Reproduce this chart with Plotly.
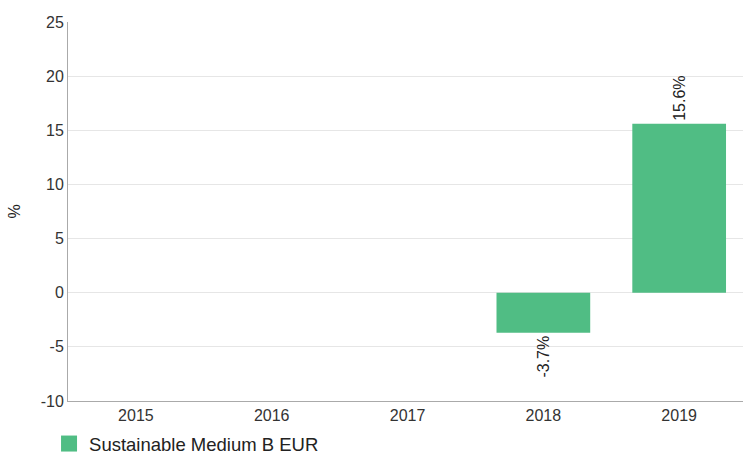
import plotly.graph_objects as go

years = ["2015", "2016", "2017", "2018", "2019"]
values = [None, None, None, -3.7, 15.6]
labels = ["", "", "", "-3.7%", "15.6%"]
series_name = "Sustainable Medium B EUR"
y_title = "%"
y_ticks = [-10, -5, 0, 5, 10, 15, 20, 25]
y_tick_text = ["-10", "-5", "0", "5", "10", "15", "20", "25"]

GREEN = "#50BD84"
FONT = "Liberation Sans, Arial, sans-serif"

fig = go.Figure()
fig.add_trace(go.Bar(
    x=years, y=values, text=labels, name=series_name,
    marker=dict(color=GREEN, line=dict(width=0)),
    textposition="outside", textangle=-90,
    textfont=dict(size=16, color="#222222", family=FONT),
    cliponaxis=False, width=0.69, showlegend=False,
))
# legend entry (square swatch)
fig.add_trace(go.Scatter(
    x=[None], y=[None], mode="markers", name=series_name,
    marker=dict(symbol="square", size=18, color=GREEN), showlegend=True,
))
fig.add_annotation(
    text=y_title, xref="paper", yref="paper", x=-0.08, y=0.5,
    xanchor="center", yanchor="middle", textangle=-90, showarrow=False,
    font=dict(size=16, color="#222222", family=FONT),
)
fig.update_layout(
    width=743, height=454,
    margin=dict(l=68, r=0, t=22, b=53, autoexpand=False),
    paper_bgcolor="white", plot_bgcolor="white",
    font=dict(family=FONT, size=16, color="#333333"),
    showlegend=True,
    legend=dict(orientation="h", xref="container", yref="paper",
                x=0.066, xanchor="left", y=-0.1135, yanchor="middle",
                font=dict(size=18.5, color="#222222"), itemsizing="trace",
                bgcolor="rgba(0,0,0,0)"),
    xaxis=dict(type="category", range=[-0.5, 4.47], showline=True, linecolor="#aaaaaa",
               linewidth=1, ticks="", showgrid=False, automargin=False,
               tickfont=dict(size=16, color="#333333")),
    yaxis=dict(range=[-10, 25], tickvals=y_ticks, ticktext=y_tick_text, showline=True,
               linecolor="#aaaaaa", linewidth=1, showgrid=True, gridcolor="#e6e6e6",
               zeroline=False, ticks="", automargin=False,
               tickfont=dict(size=16, color="#333333")),
)
fig.write_html("out.html", config={"responsive": False, "displayModeBar": False},
               post_script="document.body.style.margin='0px';document.body.style.overflow='hidden';")
